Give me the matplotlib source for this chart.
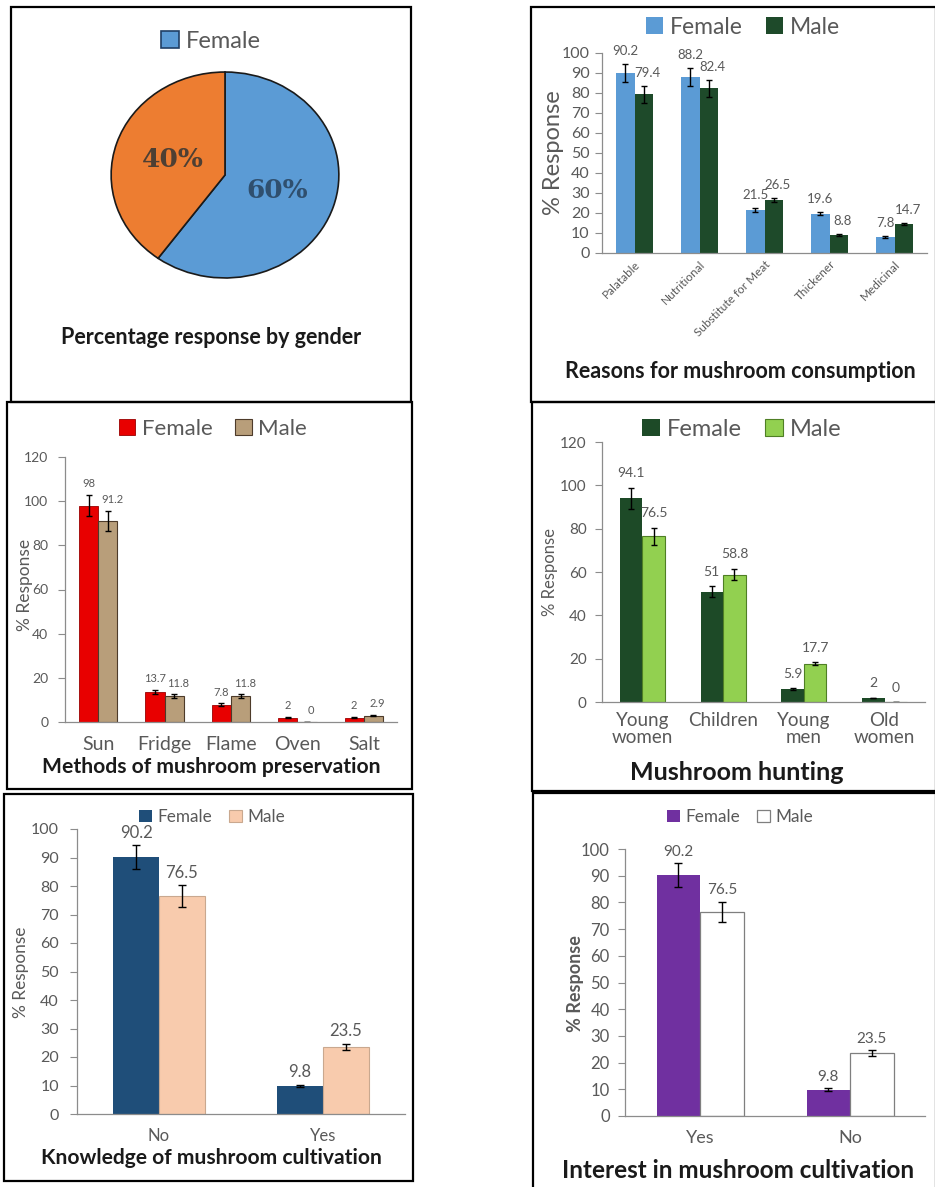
import numpy as np
import matplotlib.pyplot as plt
from matplotlib.patches import Rectangle, Patch

plt.rcParams['font.family'] = ['Lato', 'DejaVu Sans']

W, H = 935, 1187
GRAY = "#595959"
AXIS = "#8c8c8c"

# --- survey data ---
gender_labels = ["Female", "Male"]
gender_share = [60, 40]

reasons = ["Palatable", "Nutritional", "Substitute for Meat", "Thickener", "Medicinal"]
reasons_female = [90.2, 88.2, 21.5, 19.6, 7.8]
reasons_male = [79.4, 82.4, 26.5, 8.8, 14.7]
reasons_female_err = [4.5, 4.5, 1.2, 0.7, 0.5]
reasons_male_err = [4.2, 4.2, 0.8, 0.5, 0.5]

methods = ["Sun", "Fridge", "Flame", "Oven", "Salt"]
methods_female = [98, 13.7, 7.8, 2, 2]
methods_male = [91.2, 11.8, 11.8, 0, 2.9]
methods_female_err = [4.8, 0.8, 0.6, 0.3, 0.3]
methods_male_err = [4.5, 0.8, 0.8, 0, 0.4]

hunters = ["Young\nwomen", "Children", "Young\nmen", "Old\nwomen"]
hunting_female = [94.1, 51, 5.9, 2]
hunting_male = [76.5, 58.8, 17.7, 0]
hunting_female_err = [4.8, 2.6, 0.5, 0]
hunting_male_err = [4.0, 2.7, 0.8, 0]

knowledge = ["No", "Yes"]
knowledge_female = [90.2, 9.8]
knowledge_male = [76.5, 23.5]
knowledge_female_err = [4.3, 0.5]
knowledge_male_err = [3.8, 1.2]

interest = ["Yes", "No"]
interest_female = [90.2, 9.8]
interest_male = [76.5, 23.5]
interest_female_err = [4.5, 0.5]
interest_male_err = [3.8, 1.2]


def fx(x):
    return x / W


def fy(y):
    return 1 - y / H


def add_axes_px(fig, x0, y0, x1, y1):
    return fig.add_axes([fx(x0), fy(y1), (x1 - x0) / W, (y1 - y0) / H])


def frame(fig, x0, y0, x1, y1):
    fig.add_artist(Rectangle((fx(x0), fy(y1)), (x1 - x0) / W, (y1 - y0) / H,
                             transform=fig.transFigure, fill=False,
                             lw=1.6, ec="black"))


def legend(fig, cx, cy, styles, size, gap=1.0):
    handles = [Patch(**s) for s in styles]
    fig.legend(handles, gender_labels, loc="center",
               bbox_to_anchor=(fx(cx), fy(cy)), ncol=len(handles),
               frameon=False, fontsize=size, labelcolor=GRAY,
               handlelength=0.75, handleheight=0.75, handletextpad=0.3,
               columnspacing=gap, borderpad=0)


def title(fig, x, y, text, size):
    fig.text(fx(x), fy(y), text, ha="center", va="center",
             fontsize=size, fontweight="bold", color="#1a1a1a")


def ylabel(fig, x, y, size, weight="normal"):
    fig.text(fx(x), fy(y), "% Response", rotation=90, ha="center", va="center",
             fontsize=size, fontweight=weight, color=GRAY)


def grouped(ax, cats, fem, male, fem_err, male_err, fem_style, male_style,
            ymax, ystep, width=0.28, tick_size=9, val_size=9, val_pad=3,
            xtick_size=10, xtick_pad=6, capsize=2.5, tick_pad=5, male_shift=0):
    x = np.arange(len(cats)) + 0.5
    ek = dict(ecolor="black", elinewidth=1, capsize=capsize, capthick=1)
    ax.bar(x - width / 2, fem, width, yerr=fem_err, error_kw=ek, zorder=2, **fem_style)
    ax.bar(x + width / 2, male, width, yerr=male_err, error_kw=ek, zorder=2, **male_style)
    for xs, vals, errs, dx in ((x - width / 2, fem, fem_err, 0),
                               (x + width / 2, male, male_err, male_shift)):
        for xi, v, e in zip(xs, vals, errs):
            ax.annotate(f"{v:g}", (xi, v + e), xytext=(dx, val_pad),
                        textcoords="offset points", ha="center", va="bottom",
                        fontsize=val_size, color=GRAY)
    ax.set_xlim(0, len(cats))
    ax.set_ylim(0, ymax)
    ax.set_yticks(np.arange(0, ymax + 1, ystep))
    ax.set_xticks(x)
    ax.set_xticklabels(cats, linespacing=1.0)
    for s in ("top", "right"):
        ax.spines[s].set_visible(False)
    for s in ("left", "bottom"):
        ax.spines[s].set_color(AXIS)
        ax.spines[s].set_linewidth(0.9)
    ax.tick_params(axis="y", colors=AXIS, labelcolor=GRAY, labelsize=tick_size,
                   length=5, width=0.8, pad=tick_pad)
    ax.tick_params(axis="x", length=0, labelcolor=GRAY, labelsize=xtick_size,
                   pad=xtick_pad)
    ax.patch.set_alpha(0)


fig = plt.figure(figsize=(W / 100, H / 100), dpi=100)

# panel frames
frame(fig, 11, 7, 411, 402)
frame(fig, 7, 402, 412, 789)
frame(fig, 4, 794, 413, 1181)
frame(fig, 531, 7, 936, 402)
frame(fig, 532, 402, 936, 791)
frame(fig, 533, 793, 936, 1190)

# --- gender pie ---
ax = add_axes_px(fig, 110, 71, 340, 279)
wedges, _, pct = ax.pie(gender_share, colors=["#5b9bd5", "#ed7d31"], startangle=90,
                        counterclock=False, autopct="%1.0f%%", pctdistance=0.48,
                        wedgeprops=dict(edgecolor="#1a1a1a", linewidth=1.2))
for t, c in zip(pct, ["#2f4f6e", "#4e3f33"]):
    t.set_color(c)
    t.set_fontsize(19)
    t.set_fontweight("bold")
    t.set_fontfamily("DejaVu Serif")
ax.set_aspect("auto")
ax.set_xlim(-1.01, 1.01)
ax.set_ylim(-1.01, 1.01)
fig.legend([Patch(facecolor="#5b9bd5", edgecolor="#1f3f66", lw=1.2)], gender_labels[:1],
           loc="center", bbox_to_anchor=(fx(211), fy(41)), frameon=False,
           fontsize=17, labelcolor=GRAY, handlelength=0.75, handleheight=0.75,
           handletextpad=0.3, borderpad=0)
title(fig, 211, 337, "Percentage response by gender", 15.5)

# --- reasons for consumption ---
ax = add_axes_px(fig, 602, 53, 927, 253)
fem_style = dict(facecolor="#5b9bd5")
male_style = dict(facecolor="#1e4a2a")
grouped(ax, reasons, reasons_female, reasons_male, reasons_female_err, reasons_male_err,
        fem_style, male_style, 100, 10, tick_size=11.5, val_size=9.5, val_pad=5, capsize=2,
        tick_pad=4, male_shift=3)
ax.set_xticklabels(reasons, rotation=45, ha="right", rotation_mode="anchor", fontsize=8.5)
ax.tick_params(axis="x", pad=4)
legend(fig, 743, 27, [fem_style, male_style], 16.5)
ylabel(fig, 553, 153, 17)
title(fig, 740, 371, "Reasons for mushroom consumption", 15.5)

# --- preservation methods ---
ax = add_axes_px(fig, 65, 457, 397, 722)
fem_style = dict(facecolor="#e80000", edgecolor="#9a0000", linewidth=0.6)
male_style = dict(facecolor="#b89e7a", edgecolor="#4d3b2a", linewidth=0.8)
grouped(ax, methods, methods_female, methods_male, methods_female_err, methods_male_err,
        fem_style, male_style, 120, 20, width=0.29, tick_size=10, val_size=8, val_pad=4,
        xtick_size=14, xtick_pad=10, tick_pad=7, male_shift=3)
legend(fig, 213, 429, [fem_style, male_style], 16)
ylabel(fig, 25, 585, 12.5)
title(fig, 211, 767, "Methods of mushroom preservation", 15.2)

# --- mushroom hunting ---
ax = add_axes_px(fig, 602, 442, 925, 702)
fem_style = dict(facecolor="#1d4a27")
male_style = dict(facecolor="#92d050", edgecolor="#4f7f25", linewidth=0.8)
grouped(ax, hunters, hunting_female, hunting_male, hunting_female_err, hunting_male_err,
        fem_style, male_style, 120, 20, width=0.28, tick_size=11, val_size=10, val_pad=6,
        xtick_size=13.5, xtick_pad=7, tick_pad=6)
legend(fig, 742, 429, [fem_style, male_style], 17)
ylabel(fig, 550, 572, 12)
title(fig, 737, 772, "Mushroom hunting", 18)

# --- knowledge of cultivation ---
ax = add_axes_px(fig, 77, 829, 405, 1114)
fem_style = dict(facecolor="#1f4e79")
male_style = dict(facecolor="#f8cbad", edgecolor="#c9a88f", linewidth=0.8)
grouped(ax, knowledge, knowledge_female, knowledge_male, knowledge_female_err,
        knowledge_male_err, fem_style, male_style, 100, 10, width=0.28, tick_size=11.5,
        val_size=12, val_pad=3, xtick_size=12, xtick_pad=10, capsize=3, tick_pad=8)
legend(fig, 212, 817, [fem_style, male_style], 12.3)
ylabel(fig, 21, 972, 12.4)
title(fig, 211, 1158, "Knowledge of mushroom cultivation", 15.1)

# --- interest in cultivation ---
ax = add_axes_px(fig, 625, 849, 925, 1116)
fem_style = dict(facecolor="#7030a0")
male_style = dict(facecolor="white", edgecolor="#7f7f7f", linewidth=0.9)
grouped(ax, interest, interest_female, interest_male, interest_female_err,
        interest_male_err, fem_style, male_style, 100, 10, width=0.29, tick_size=12,
        val_size=11, val_pad=3, xtick_size=13, xtick_pad=10, capsize=3, tick_pad=6)
legend(fig, 740, 817, [fem_style, male_style], 12.3)
ylabel(fig, 575, 984, 13, weight="bold")
title(fig, 738, 1170, "Interest in mushroom cultivation", 17.5)

fig.savefig("out.png", dpi=100)
